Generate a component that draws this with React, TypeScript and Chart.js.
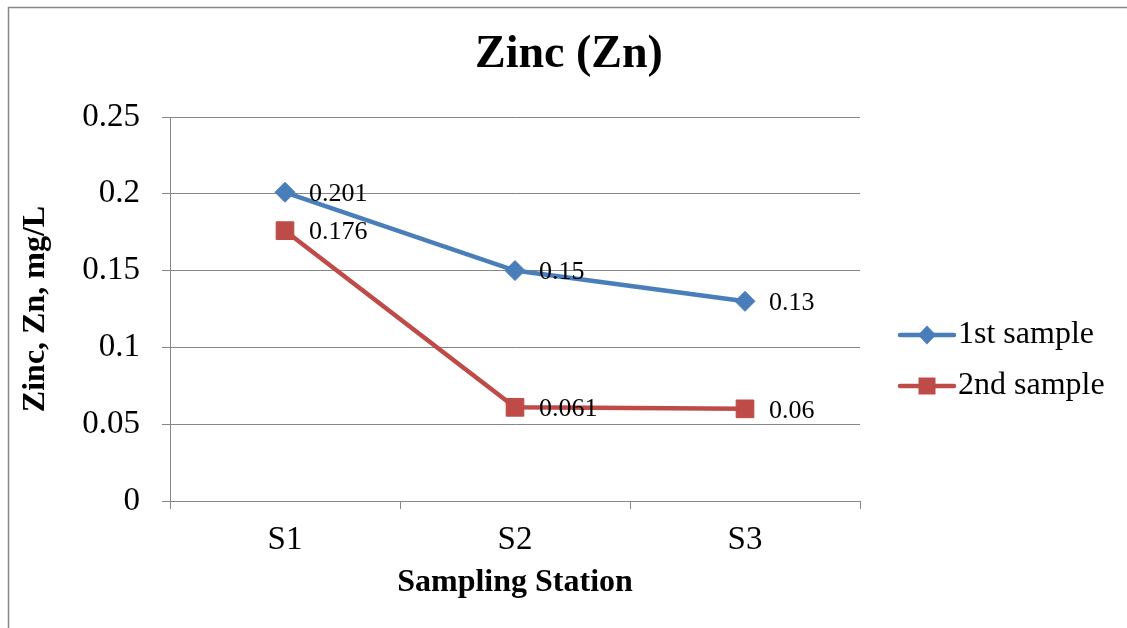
import React, { useEffect, useRef } from "react";
import { Chart, registerables } from "chart.js";

Chart.register(...registerables);

const chartTitle = "Zinc (Zn)";
const categories = ["S1", "S2", "S3"];
const seriesNames = ["1st sample", "2nd sample"];
const firstSample = [0.201, 0.15, 0.13];
const secondSample = [0.176, 0.061, 0.06];
const yTickLabels = ["0", "0.05", "0.1", "0.15", "0.2", "0.25"];
const xAxisTitle = "Sampling Station";
const yAxisTitle = "Zinc, Zn, mg/L";

const BLUE = "#4A7EBB";
const RED = "#BE4B48";
const GRID = "#868686";
const FONT = "'Liberation Serif', 'Times New Roman', serif";

const overlayPlugin = {
  id: "overlay",
  afterDatasetsDraw(chart: any) {
    const ctx = chart.ctx;
    ctx.save();
    // data labels
    ctx.font = `26px ${FONT}`;
    ctx.fillStyle = "#000";
    ctx.textAlign = "left";
    ctx.textBaseline = "middle";
    chart.data.datasets.forEach((ds: any, i: number) => {
      const meta = chart.getDatasetMeta(i);
      meta.data.forEach((el: any, j: number) => {
        ctx.fillText(String(ds.data[j]), el.x + 24, el.y + 2);
      });
    });
    ctx.restore();
  },
  afterDraw(chart: any) {
    const ctx = chart.ctx;
    ctx.save();
    // outer frame
    ctx.strokeStyle = GRID;
    ctx.lineWidth = 1.5;
    ctx.beginPath();
    ctx.moveTo(8.5, chart.height + 2);
    ctx.lineTo(8.5, 7.5);
    ctx.lineTo(chart.width + 2, 7.5);
    ctx.stroke();

    // title
    ctx.fillStyle = "#000";
    ctx.font = `bold 46px ${FONT}`;
    ctx.textAlign = "center";
    ctx.textBaseline = "middle";
    ctx.fillText(chartTitle, 569, 55);

    // legend
    const items = [
      { name: seriesNames[0], color: BLUE, style: "diamond", y: 335 },
      { name: seriesNames[1], color: RED, style: "square", y: 386 },
    ];
    items.forEach((it) => {
      ctx.strokeStyle = it.color;
      ctx.fillStyle = it.color;
      ctx.lineWidth = 4.5;
      ctx.lineCap = "round";
      ctx.beginPath();
      ctx.moveTo(900, it.y);
      ctx.lineTo(954, it.y);
      ctx.stroke();
      const cx = 927;
      ctx.beginPath();
      if (it.style === "diamond") {
        ctx.moveTo(cx, it.y - 9.5);
        ctx.lineTo(cx + 9, it.y);
        ctx.lineTo(cx, it.y + 9.5);
        ctx.lineTo(cx - 9, it.y);
        ctx.closePath();
      } else {
        ctx.rect(cx - 8.5, it.y - 8.5, 17, 17);
      }
      ctx.fill();
      ctx.fillStyle = "#000";
      ctx.font = `32px ${FONT}`;
      ctx.textAlign = "left";
      ctx.textBaseline = "middle";
      ctx.fillText(it.name, 958, it.y);
    });
    ctx.restore();
  },
};

export default function App() {
  const canvasRef = useRef<HTMLCanvasElement | null>(null);

  useEffect(() => {
    if (!canvasRef.current) return;
    const chart = new Chart(canvasRef.current, {
      type: "line",
      data: {
        labels: categories,
        datasets: [
          {
            label: seriesNames[0],
            data: firstSample,
            borderColor: BLUE,
            backgroundColor: BLUE,
            pointBackgroundColor: BLUE,
            pointBorderColor: BLUE,
            pointStyle: "rectRot",
            pointRadius: 10,
            pointBorderWidth: 1,
            borderWidth: 4.5,
            tension: 0,
            fill: false,
          },
          {
            label: seriesNames[1],
            data: secondSample,
            borderColor: RED,
            backgroundColor: RED,
            pointBackgroundColor: RED,
            pointBorderColor: RED,
            pointStyle: "rect",
            pointRadius: 12.5,
            pointBorderWidth: 1,
            borderWidth: 4.5,
            tension: 0,
            fill: false,
          },
        ],
      },
      options: {
        animation: false,
        responsive: false,
        maintainAspectRatio: false,
        events: [],
        layout: { padding: { left: 8, right: 267, top: 117, bottom: 17 } },
        plugins: {
          legend: { display: false },
          title: { display: false },
          tooltip: { enabled: false },
        },
        scales: {
          x: {
            type: "category",
            offset: true,
            grid: {
              offset: true,
              drawOnChartArea: false,
              drawTicks: true,
              tickLength: 8,
              color: GRID,
              lineWidth: 1,
            },
            border: { display: true, color: GRID, width: 1 },
            ticks: {
              color: "#000",
              padding: 12,
              font: { family: FONT, size: 33 },
              maxRotation: 0,
              autoSkip: false,
            },
            title: {
              display: true,
              text: xAxisTitle,
              color: "#000",
              font: { family: FONT, size: 32, weight: "bold" },
              padding: { top: 0, bottom: 9 },
            },
            afterFit: (scale: any) => {
              scale.height = 110;
            },
          },
          y: {
            min: 0,
            max: 0.25,
            grid: {
              drawOnChartArea: true,
              drawTicks: true,
              tickLength: 8,
              color: GRID,
              lineWidth: 1,
            },
            border: { display: true, color: GRID, width: 1 },
            ticks: {
              stepSize: 0.05,
              color: "#000",
              padding: 22,
              font: { family: FONT, size: 33 },
              callback: (_v: any, i: number) => yTickLabels[i],
            },
            title: {
              display: true,
              text: yAxisTitle,
              color: "#000",
              font: { family: FONT, size: 32, weight: "bold" },
              padding: { top: 9, bottom: 0 },
            },
            afterFit: (scale: any) => {
              scale.width = 162;
            },
          },
        },
      },
      plugins: [overlayPlugin],
    } as any);
    return () => chart.destroy();
  }, []);

  return (
    <div style={{ position: "absolute", left: 0, top: 0, width: 1127, height: 628, background: "#fff" }}>
      <canvas ref={canvasRef} width={1127} height={628} style={{ display: "block" }} />
    </div>
  );
}
